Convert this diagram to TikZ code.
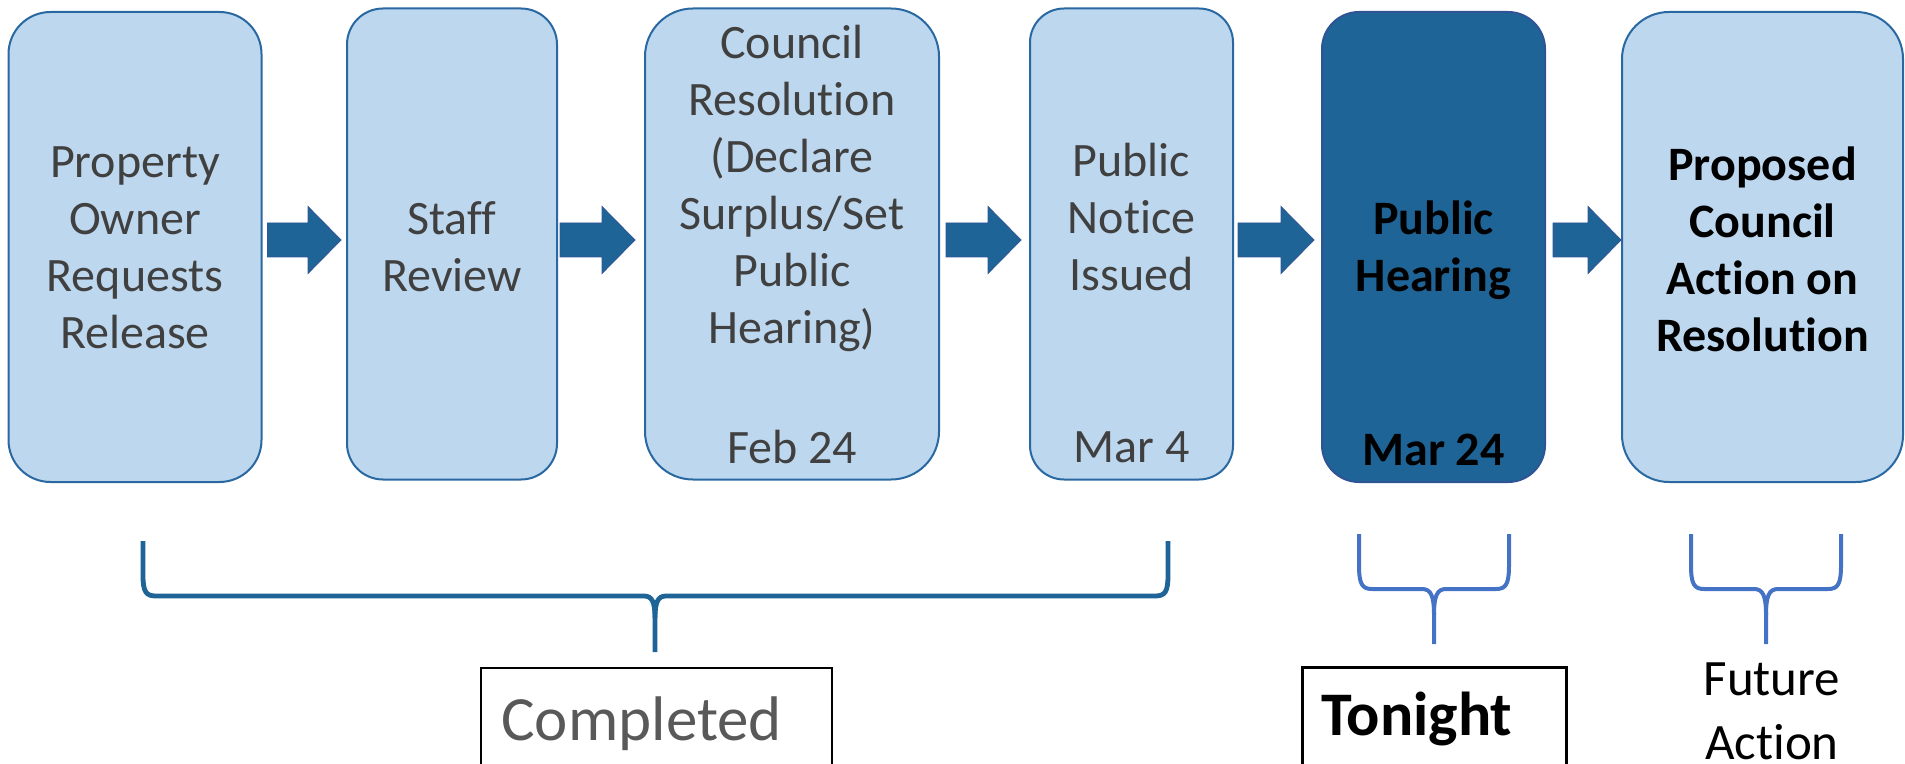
\documentclass[tikz,border=0pt]{standalone}
\usepackage{fontspec}
\setmainfont{Carlito}[Ligatures={NoCommon}]
\usetikzlibrary{calc}
\definecolor{lightfill}{RGB}{189,215,238}
\definecolor{boxline}{RGB}{41,104,160}
\definecolor{darkfill}{RGB}{31,100,150}
\definecolor{darkline}{RGB}{47,84,150}
\definecolor{txtgray}{RGB}{64,64,64}
\definecolor{txtgray2}{RGB}{89,89,89}
\definecolor{bracelight}{RGB}{68,114,196}
\newcommand{\blockarrow}[4]{%
  \filldraw[arrowstyle]
    ($(#1.east|-ay)+(#3,-17)$) -- ($(#2.west|-ay)+(-#4-33,-17)$) --
    ($(#2.west|-ay)+(-#4-33,-33.5)$) -- ($(#2.west|-ay)+(-#4,0)$) --
    ($(#2.west|-ay)+(-#4-33,33.5)$) -- ($(#2.west|-ay)+(-#4-33,17)$) --
    ($(#1.east|-ay)+(#3,17)$) -- cycle;}
\begin{document}
\begin{tikzpicture}[x=0.5pt,y=-0.5pt,
  stepbox/.style={draw=boxline, line width=1pt, fill=lightfill, rectangle, inner sep=0pt},
  darkbox/.style={draw=darkline, line width=1pt, fill=darkfill, rectangle, inner sep=0pt},
  boxtext/.style={text=txtgray, font=\fontsize{24}{28.5}\selectfont, align=center, inner sep=0pt},
  boldtext/.style={text=black, font=\fontsize{24}{28.5}\selectfont\bfseries, align=center, inner sep=0pt},
  arrowstyle/.style={fill=darkfill, draw=darkline, line width=0.4pt},
  bigbrace/.style={draw=darkfill, line width=2.4pt},
  smallbrace/.style={draw=bracelight, line width=2pt}]
\useasboundingbox (0,0) rectangle (1905,764);
\coordinate (ay) at (0,240);

% step boxes
\node[stepbox, minimum width=126.5pt, minimum height=235pt, rounded corners=21pt] (b1) at (135,247) {};
\node[stepbox, minimum width=105pt, minimum height=235.5pt, rounded corners=18pt] (b2) at (452,244) {};
\node[stepbox, minimum width=147pt, minimum height=235.5pt, rounded corners=24pt] (b3) at (792,244) {};
\node[stepbox, minimum width=101.5pt, minimum height=235.5pt, rounded corners=17pt] (b4) at (1131.5,244) {};
\node[darkbox, minimum width=111.5pt, minimum height=235pt, rounded corners=18.5pt] (b5) at (1433.5,247) {};
\node[stepbox, minimum width=140.5pt, minimum height=235pt, rounded corners=23.5pt] (b6) at (1762.5,247) {};

% texts
\node[boxtext] (t1) at (135,248) {Property\\Owner\\Requests\\Release};
\node[boxtext] (t2) at (452,247) {Staff\\Review};
\node[boxtext] (t3) at (792,188) {Council\\Resolution\\(Declare\\Surplus/Set\\Public\\Hearing)};
\node[boxtext] (d3) at (792,447) {Feb 24};
\node[boxtext] (t4) at (1131.5,217) {Public\\Notice\\Issued};
\node[boxtext] (d4) at (1131.5,447) {Mar 4};
\node[boldtext] (t5) at (1433.5,250) {Public\\Hearing};
\node[boldtext] (d5) at (1433.5,450) {Mar 24};
\node[boldtext] (t6) at (1762.5,249) {Proposed\\Council\\Action on\\Resolution};

% block arrows
\blockarrow{b1}{b2}{5}{5}
\blockarrow{b2}{b3}{2}{9}
\blockarrow{b3}{b4}{6}{8}
\blockarrow{b4}{b5}{4}{7}
\blockarrow{b5}{b6}{7}{0}

% braces
\draw[bigbrace] (143,541) -- (143,575) .. controls (143,592) and (146,596) .. (156,596) -- (644,596)
  .. controls (652,596) and (655,602) .. (655,618) -- (655,652);
\draw[bigbrace] (1168,541) -- (1168,575) .. controls (1168,592) and (1165,596) .. (1155,596) -- (666,596)
  .. controls (658,596) and (655,602) .. (655,618);

\draw[smallbrace] (1359,534) -- (1359,565) .. controls (1359,584) and (1362,589) .. (1372,589) -- (1422,589)
  .. controls (1431,589) and (1434,596) .. (1434,615) -- (1434,644);
\draw[smallbrace] (1509,534) -- (1509,565) .. controls (1509,584) and (1506,589) .. (1496,589) -- (1446,589)
  .. controls (1437,589) and (1434,596) .. (1434,615);

\draw[smallbrace] (1691,534) -- (1691,565) .. controls (1691,584) and (1694,589) .. (1704,589) -- (1754,589)
  .. controls (1763,589) and (1766,596) .. (1766,615) -- (1766,644);
\draw[smallbrace] (1841,534) -- (1841,565) .. controls (1841,584) and (1838,589) .. (1828,589) -- (1778,589)
  .. controls (1769,589) and (1766,596) .. (1766,615);

% labels below
\node[draw=black, line width=0.75pt, rectangle, inner sep=0pt, minimum width=175.5pt, minimum height=70pt, anchor=north west] (cbox) at (480,667) {};
\node[text=txtgray2, font=\fontsize{31.5}{36}\selectfont, inner sep=0pt, anchor=base west] (ctext) at (501,740) {Completed};
\node[draw=black, line width=1.3pt, rectangle, inner sep=0pt, minimum width=132pt, minimum height=70pt, anchor=north west] (tbox) at (1301,666) {};
\node[text=black, font=\fontsize{31}{36}\selectfont\bfseries, inner sep=0pt, anchor=base west] (ttext) at (1321,735) {Tonight};
\node[text=black, font=\fontsize{25.5}{32}\selectfont, align=center, inner sep=0pt, anchor=north] (ftext) at (1772,662) {Future\\Action};
\end{tikzpicture}
\end{document}
